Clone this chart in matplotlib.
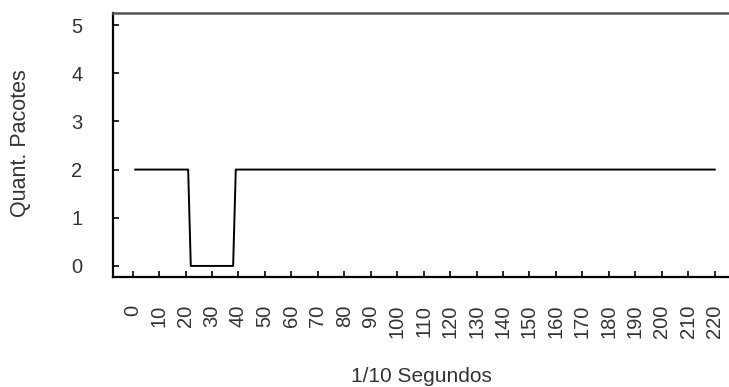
import matplotlib
matplotlib.use('Agg')
import matplotlib.pyplot as plt

plt.rcParams['font.family'] = ['Liberation Sans', 'DejaVu Sans']

# dados: quantidade de pacotes por instante (1/10 s)
tempo = list(range(1, 221))
pacotes = [2] * 21 + [0] * 17 + [2] * 182

ticks_x = list(range(0, 221, 10))
ticks_y = [0, 1, 2, 3, 4, 5]

fig = plt.figure(figsize=(7.29, 3.87), dpi=100)
ax = fig.add_axes([113 / 729, 1 - 277 / 387, 1 - 113 / 729, (277 - 13) / 387])

ax.plot(tempo, pacotes, color='black', lw=1.4)

ax.set_xlim(-7.4, 225.4)
ax.set_ylim(-0.23, 5.25)
ax.set_xticks(ticks_x)
ax.set_xticklabels([str(t) for t in ticks_x], rotation=90)
ax.set_yticks(ticks_y)

ax.tick_params(direction='in', length=4, width=1.2, colors='black',
               labelcolor='#333333', labelsize=14.5)
ax.tick_params(axis='x', pad=20)
ax.tick_params(axis='y', pad=22)

ax.spines['right'].set_visible(False)
ax.spines['top'].set_color('#555555')
ax.spines['top'].set_linewidth(1.8)
ax.spines['left'].set_linewidth(1.6)
ax.spines['bottom'].set_linewidth(1.6)

fig.text(421 / 729, 1 - 377 / 387, '1/10 Segundos', ha='center', va='center',
         fontsize=15, color='#333333')
fig.text(21 / 729, 1 - 143 / 387, 'Quant. Pacotes', ha='center', va='center',
         rotation=90, fontsize=15.5, color='#333333')

fig.savefig('out.png', dpi=100)
